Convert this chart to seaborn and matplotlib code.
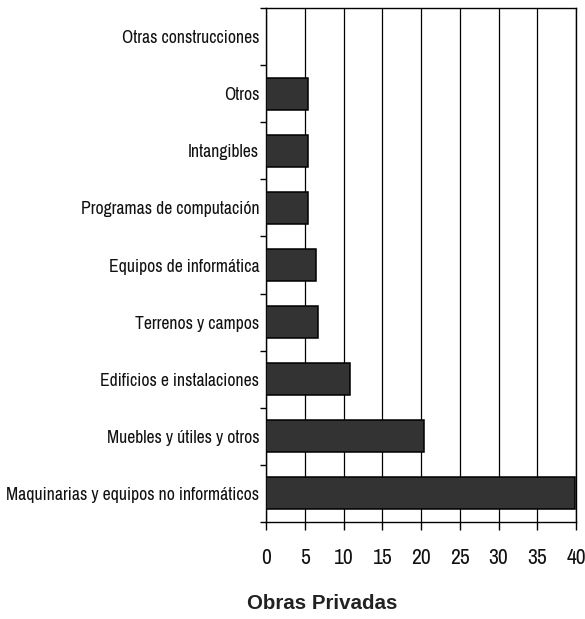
import matplotlib
matplotlib.use("Agg")
import matplotlib.pyplot as plt
import seaborn as sns
import pandas as pd
import numpy as np

categories = [
    "Otras construcciones",
    "Otros",
    "Intangibles",
    "Programas de computación",
    "Equipos de informática",
    "Terrenos y campos",
    "Edificios e instalaciones",
    "Muebles y útiles y otros",
    "Maquinarias y equipos no informáticos",
]
values = [0, 5.35, 5.35, 5.35, 6.45, 6.65, 10.8, 20.4, 39.9]
xticks = [0, 5, 10, 15, 20, 25, 30, 35, 40]
title = "Obras Privadas"

sns.set_theme(style="white")
narrow = ["Liberation Sans Narrow", "Arial Narrow", "Archivo Narrow", "DejaVu Sans"]
plt.rcParams["font.family"] = narrow

df = pd.DataFrame({"cat": categories, "val": values})

fig = plt.figure(figsize=(5.85, 6.19), dpi=100)
ax = fig.add_axes([0.455, 0.1567, 0.5296, 0.8303])

sns.barplot(data=df, y="cat", x="val", orient="h", color="#333333",
            edgecolor="black", linewidth=1.1, width=0.56, saturation=1, ax=ax, zorder=3)

ax.set_xlim(0, 40)
ax.set_ylim(len(categories) - 0.5, -0.5)
ax.set_xticks(xticks)
ax.set_xticklabels([str(t) for t in xticks], fontsize=15.5, color="#111111")
ax.xaxis.grid(True, color="black", linewidth=0.9, zorder=0)
ax.set_axisbelow(True)

n = len(categories)
ax.set_yticks(np.arange(-0.5, n, 1.0))
ax.set_yticklabels([])
ax.set_yticks(np.arange(n), minor=True)
ylabels = ax.set_yticklabels(categories, minor=True, fontsize=12, color="#111111")
ax.tick_params(axis="y", which="major", length=4, width=1, color="black", direction="out", left=True)
ax.tick_params(axis="y", which="minor", length=0, pad=8)
ax.tick_params(axis="x", which="major", length=6, width=1, color="black", direction="out", bottom=True, pad=13)

for s in ax.spines.values():
    s.set_color("black")
    s.set_linewidth(1)

ax.set_ylabel("")
ax.set_xlabel("")
ttl = fig.text(0.551, 0.010, title, ha="center", va="bottom", fontsize=12, fontweight="bold",
               family=["Liberation Sans", "DejaVu Sans"], color="#222222")

# fit text widths to the reference
fig.canvas.draw()
r = fig.canvas.get_renderer()
longest = max(t.get_window_extent(r).width for t in ylabels)
new_fs = 12 * 251.0 / longest
for t in ylabels:
    t.set_fontsize(new_fs)
ax.tick_params(axis="y", which="minor", pad=5)
tw = ttl.get_window_extent(r).width
ttl.set_fontsize(12 * 150.0 / tw)

fig.savefig("out.png", dpi=100)
